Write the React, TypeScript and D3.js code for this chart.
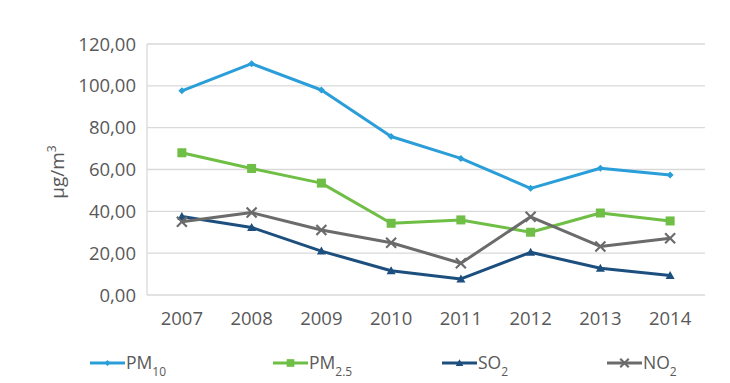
import React from "react";
import * as d3 from "d3";

const years = ["2007", "2008", "2009", "2010", "2011", "2012", "2013", "2014"];
const pm10 = [97.6, 110.6, 98.0, 75.8, 65.3, 51.0, 60.6, 57.4];
const pm25 = [68.0, 60.5, 53.5, 34.3, 35.9, 30.0, 39.2, 35.4];
const so2 = [37.5, 32.3, 21.0, 11.6, 7.7, 20.4, 12.8, 9.3];
const no2 = [35.0, 39.4, 31.1, 25.0, 15.2, 37.4, 23.2, 27.1];
const yTicks = [0, 20, 40, 60, 80, 100, 120];

const W = 730, H = 383;
const left = 147, right = 705, top = 44, bottom = 295;
const FONT = "'Open Sans', sans-serif";
const TXT = "#595959";

type Series = { key: string; sub: string; values: number[]; color: string; marker: string };
const series: Series[] = [
  { key: "PM", sub: "10", values: pm10, color: "#2a9ed8", marker: "diamond" },
  { key: "PM", sub: "2.5", values: pm25, color: "#6fbe45", marker: "square" },
  { key: "SO", sub: "2", values: so2, color: "#1d4f7e", marker: "triangle" },
  { key: "NO", sub: "2", values: no2, color: "#6b6b6b", marker: "x" },
];

function Marker({ type, x, y, color, k = 1 }: { type: string; x: number; y: number; color: string; k?: number }) {
  if (type === "diamond") {
    const s = 3.5 * k;
    return <path d={`M${x},${y - s}L${x + s},${y}L${x},${y + s}L${x - s},${y}Z`} fill={color} />;
  }
  if (type === "square") {
    const s = 4.5 * k;
    return <rect x={x - s} y={y - s} width={2 * s} height={2 * s} fill={color} />;
  }
  if (type === "triangle") {
    const s = 4.5 * k;
    return <path d={`M${x},${y - s}L${x + s},${y + s * 0.78}L${x - s},${y + s * 0.78}Z`} fill={color} />;
  }
  const s = 5 * k;
  return (
    <g stroke={color} strokeWidth={2.2}>
      <line x1={x - s} y1={y - s} x2={x + s} y2={y + s} />
      <line x1={x - s} y1={y + s} x2={x + s} y2={y - s} />
    </g>
  );
}

export default function App() {
  const x = d3.scaleBand<string>().domain(years).range([left, right]);
  const y = d3.scaleLinear().domain([0, 120]).range([bottom, top]);
  const cx = (d: string) => (x(d) as number) + x.bandwidth() / 2;
  const line = d3
    .line<number>()
    .x((_, i) => cx(years[i]))
    .y((v) => y(v));

  const legendX = [90, 273, 442, 607];

  return (
    <svg width={W} height={H} style={{ position: "absolute", left: 0, top: 0, background: "#fff" }}>
      <rect x={0} y={0} width={W} height={H} fill="#fff" />
      {yTicks.map((t) => (
        <g key={t}>
          <line x1={left} x2={right} y1={y(t)} y2={y(t)} stroke="#d9d9d9" strokeWidth={1.3} />
          <text x={136} y={y(t)} dy="0.36em" textAnchor="end" fontFamily={FONT} fontSize={18.5} fill={TXT}>
            {d3.format(".2f")(t).replace(".", ",")}
          </text>
        </g>
      ))}
      <line x1={left} x2={left} y1={top} y2={bottom} stroke="#d9d9d9" strokeWidth={1.3} />
      {years.map((yr) => (
        <text key={yr} x={cx(yr)} y={318} dy="0.36em" textAnchor="middle" fontFamily={FONT} fontSize={18.5} fill={TXT}>
          {yr}
        </text>
      ))}
      <text
        transform={`translate(64,172) rotate(-90)`}
        textAnchor="middle"
        fontFamily={FONT}
        fontSize={19}
        fill={TXT}
      >
        µg/m<tspan dy="-8" fontSize={12}>3</tspan>
      </text>
      {series.map((s) => (
        <g key={s.key + s.sub}>
          <path d={line(s.values) || ""} fill="none" stroke={s.color} strokeWidth={3} strokeLinejoin="round" />
          {s.values.map((v, i) => (
            <Marker key={i} type={s.marker} x={cx(years[i])} y={y(v)} color={s.color} />
          ))}
        </g>
      ))}
      {series.map((s, i) => {
        const lx = legendX[i];
        const ly = 363;
        return (
          <g key={"lg" + i}>
            <line x1={lx} x2={lx + 35} y1={ly} y2={ly} stroke={s.color} strokeWidth={3} />
            <Marker type={s.marker} x={lx + 17.5} y={ly} color={s.color} k={0.85} />
            <text x={lx + 36} y={ly} dy="0.36em" fontFamily={FONT} fontSize={17.5} fill={TXT}>
              {s.key}
              <tspan dy="7" fontSize={12}>{s.sub}</tspan>
            </text>
          </g>
        );
      })}
    </svg>
  );
}
